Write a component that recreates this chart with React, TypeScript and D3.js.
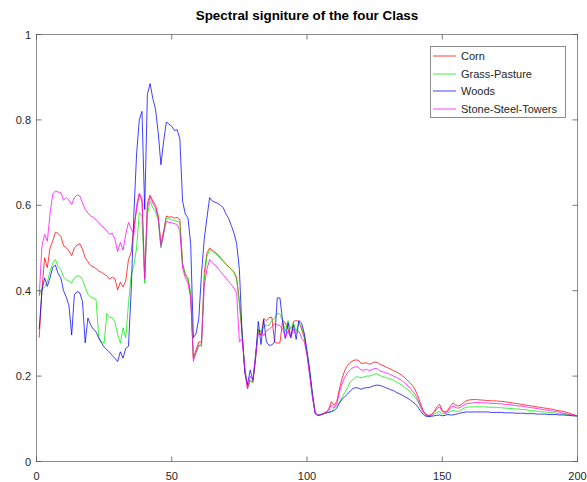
import React from "react";
import * as d3 from "d3";

// Mean reflectance per spectral band (bands 1..200) for each class
const corn = [
  0.290,0.400,0.477,0.454,0.500,0.516,0.537,0.534,0.527,0.505,
  0.501,0.493,0.482,0.500,0.507,0.510,0.497,0.477,0.468,0.459,
  0.456,0.452,0.446,0.443,0.439,0.435,0.427,0.432,0.428,0.402,
  0.420,0.409,0.423,0.473,0.490,0.550,0.590,0.626,0.610,0.430,
  0.606,0.624,0.610,0.600,0.575,0.510,0.540,0.575,0.572,0.573,
  0.570,0.572,0.566,0.465,0.438,0.426,0.390,0.242,0.262,0.280,
  0.280,0.440,0.488,0.500,0.495,0.490,0.485,0.478,0.470,0.463,
  0.456,0.450,0.444,0.430,0.375,0.300,0.210,0.171,0.190,0.185,
  0.240,0.310,0.295,0.335,0.330,0.337,0.338,0.280,0.277,0.278,
  0.330,0.325,0.310,0.290,0.328,0.330,0.328,0.310,0.290,0.250,
  0.205,0.155,0.115,0.108,0.109,0.112,0.116,0.122,0.140,0.132,
  0.140,0.170,0.195,0.214,0.225,0.232,0.236,0.238,0.237,0.230,
  0.230,0.231,0.228,0.230,0.233,0.232,0.227,0.225,0.222,0.219,
  0.216,0.213,0.210,0.206,0.202,0.197,0.191,0.185,0.178,0.168,
  0.153,0.135,0.118,0.110,0.108,0.110,0.117,0.128,0.134,0.120,
  0.116,0.120,0.130,0.137,0.132,0.130,0.133,0.138,0.143,0.144,
  0.145,0.145,0.145,0.144,0.144,0.143,0.143,0.142,0.142,0.142,
  0.141,0.141,0.140,0.139,0.138,0.137,0.136,0.135,0.134,0.133,
  0.132,0.131,0.130,0.129,0.128,0.127,0.126,0.125,0.124,0.123,
  0.122,0.120,0.119,0.118,0.117,0.115,0.113,0.111,0.109,0.107,
];

const grassPasture = [
  0.390,0.404,0.408,0.420,0.445,0.465,0.473,0.456,0.450,0.432,
  0.426,0.422,0.418,0.430,0.435,0.434,0.426,0.408,0.392,0.385,
  0.382,0.380,0.293,0.280,0.277,0.347,0.338,0.336,0.326,0.298,
  0.277,0.313,0.290,0.370,0.435,0.460,0.500,0.583,0.575,0.418,
  0.578,0.610,0.594,0.585,0.565,0.500,0.532,0.571,0.568,0.566,
  0.565,0.562,0.560,0.461,0.440,0.430,0.398,0.242,0.255,0.270,
  0.275,0.422,0.480,0.496,0.492,0.488,0.482,0.475,0.468,0.462,
  0.456,0.450,0.443,0.425,0.370,0.300,0.220,0.175,0.190,0.185,
  0.250,0.310,0.305,0.315,0.320,0.318,0.330,0.335,0.347,0.345,
  0.330,0.305,0.330,0.310,0.325,0.305,0.325,0.315,0.295,0.255,
  0.210,0.155,0.115,0.108,0.109,0.111,0.113,0.115,0.117,0.125,
  0.130,0.140,0.150,0.162,0.173,0.187,0.192,0.198,0.198,0.196,
  0.198,0.200,0.200,0.202,0.205,0.205,0.201,0.199,0.197,0.195,
  0.193,0.190,0.186,0.183,0.179,0.174,0.169,0.164,0.158,0.150,
  0.140,0.127,0.115,0.108,0.106,0.107,0.111,0.115,0.117,0.112,
  0.111,0.114,0.117,0.120,0.118,0.117,0.121,0.125,0.127,0.128,
  0.128,0.128,0.128,0.128,0.128,0.128,0.127,0.127,0.127,0.127,
  0.126,0.126,0.125,0.125,0.124,0.124,0.123,0.123,0.122,0.122,
  0.121,0.120,0.119,0.119,0.118,0.117,0.116,0.116,0.115,0.115,
  0.114,0.113,0.112,0.111,0.111,0.110,0.109,0.108,0.107,0.106,
];

const woods = [
  0.310,0.400,0.430,0.410,0.430,0.455,0.460,0.440,0.430,0.400,
  0.385,0.365,0.296,0.390,0.398,0.395,0.375,0.278,0.336,0.320,
  0.310,0.304,0.289,0.278,0.268,0.262,0.256,0.248,0.242,0.234,
  0.257,0.242,0.265,0.270,0.400,0.580,0.720,0.800,0.820,0.590,
  0.860,0.885,0.850,0.825,0.770,0.695,0.750,0.795,0.790,0.785,
  0.775,0.777,0.755,0.610,0.580,0.570,0.510,0.290,0.300,0.335,
  0.440,0.520,0.570,0.618,0.610,0.607,0.605,0.600,0.595,0.580,
  0.570,0.553,0.535,0.510,0.450,0.300,0.210,0.180,0.214,0.190,
  0.245,0.328,0.274,0.332,0.280,0.272,0.273,0.280,0.383,0.383,
  0.328,0.288,0.325,0.290,0.320,0.286,0.330,0.324,0.300,0.260,
  0.215,0.160,0.112,0.108,0.110,0.112,0.114,0.115,0.117,0.119,
  0.125,0.137,0.146,0.152,0.158,0.165,0.171,0.173,0.172,0.169,
  0.172,0.173,0.173,0.176,0.178,0.179,0.178,0.176,0.173,0.171,
  0.168,0.166,0.162,0.159,0.156,0.152,0.149,0.145,0.140,0.135,
  0.128,0.118,0.110,0.106,0.105,0.106,0.107,0.108,0.109,0.107,
  0.108,0.110,0.109,0.109,0.111,0.112,0.114,0.115,0.116,0.116,
  0.116,0.116,0.116,0.116,0.116,0.116,0.116,0.115,0.115,0.115,
  0.115,0.115,0.114,0.114,0.114,0.114,0.113,0.113,0.113,0.113,
  0.112,0.112,0.112,0.112,0.111,0.111,0.111,0.111,0.110,0.110,
  0.110,0.110,0.109,0.109,0.109,0.108,0.108,0.107,0.107,0.106,
];

const stoneSteelTowers = [
  0.387,0.504,0.532,0.516,0.580,0.626,0.634,0.631,0.630,0.612,
  0.618,0.612,0.602,0.618,0.624,0.622,0.606,0.590,0.582,0.575,
  0.572,0.566,0.560,0.552,0.547,0.540,0.532,0.535,0.520,0.492,
  0.513,0.495,0.532,0.560,0.545,0.532,0.600,0.628,0.618,0.426,
  0.594,0.620,0.605,0.594,0.570,0.504,0.535,0.563,0.560,0.559,
  0.557,0.555,0.540,0.453,0.430,0.418,0.383,0.235,0.255,0.273,
  0.270,0.410,0.450,0.473,0.465,0.460,0.453,0.445,0.437,0.430,
  0.422,0.414,0.406,0.394,0.280,0.288,0.220,0.171,0.200,0.190,
  0.250,0.300,0.305,0.295,0.306,0.310,0.315,0.323,0.320,0.318,
  0.310,0.290,0.305,0.290,0.310,0.300,0.305,0.290,0.280,0.250,
  0.200,0.150,0.113,0.108,0.109,0.111,0.114,0.118,0.132,0.126,
  0.135,0.162,0.183,0.198,0.208,0.215,0.220,0.222,0.221,0.214,
  0.214,0.216,0.213,0.215,0.218,0.217,0.212,0.210,0.208,0.206,
  0.203,0.200,0.197,0.194,0.190,0.185,0.179,0.172,0.165,0.157,
  0.145,0.130,0.116,0.109,0.107,0.109,0.115,0.124,0.128,0.117,
  0.114,0.117,0.125,0.130,0.126,0.125,0.128,0.132,0.135,0.136,
  0.137,0.138,0.138,0.138,0.137,0.137,0.137,0.136,0.136,0.136,
  0.135,0.135,0.134,0.133,0.133,0.132,0.131,0.130,0.130,0.129,
  0.128,0.127,0.126,0.125,0.124,0.123,0.122,0.121,0.120,0.119,
  0.118,0.117,0.116,0.114,0.113,0.112,0.110,0.109,0.108,0.106,
];

const seriesNames = ["Corn", "Grass-Pasture", "Woods", "Stone-Steel-Towers"];
const seriesColors = ["#ff0000", "#00ee00", "#0000ff", "#ff00ff"];
const xTicks = [0, 50, 100, 150, 200];
const yTicks = [0, 0.2, 0.4, 0.6, 0.8, 1];
const title = "Spectral signiture of the four Class";

const W = 587;
const H = 482;
const M = { left: 36.5, right: 577.5, top: 34.5, bottom: 461.5 };
const FONT = "'Liberation Sans', Arial, Helvetica, sans-serif";

export default function App() {
  const x = d3.scaleLinear().domain([0, 200]).range([M.left, M.right]);
  const y = d3.scaleLinear().domain([0, 1]).range([M.bottom, M.top]);
  const all = [corn, grassPasture, woods, stoneSteelTowers];
  const line = d3
    .line<number>()
    .x((_, i) => x(i + 1))
    .y((d) => y(d));

  const tickLen = 5;
  const axisColor = "#8c8c8c";
  const tickColor = "#555";
  const textColor = "#262626";

  const legend = { x0: 430.5, y0: 46.5, w: 135, h: 71, row0: 56, dy: 17.7 };

  return (
    <svg
      width={W}
      height={H}
      style={{ position: "absolute", left: 0, top: 0, background: "#fff" }}
      fontFamily={FONT}
    >
      <rect x={0} y={0} width={W} height={H} fill="#fff" />
      <text
        x={(M.left + M.right) / 2}
        y={20}
        textAnchor="middle"
        fontSize={13.4}
        fontWeight="bold"
        fill="#000"
      >
        {title}
      </text>

      <defs>
        <clipPath id="plotclip">
          <rect x={M.left} y={M.top} width={M.right - M.left} height={M.bottom - M.top} />
        </clipPath>
      </defs>
      <g clipPath="url(#plotclip)">
        {all.map((s, k) => (
          <path
            key={seriesNames[k]}
            d={line(s) || ""}
            fill="none"
            stroke={seriesColors[k]}
            strokeWidth={1}
            strokeOpacity={0.75}
            strokeLinejoin="round"
          />
        ))}
      </g>

      {/* axes box */}
      <rect
        x={M.left}
        y={M.top}
        width={M.right - M.left}
        height={M.bottom - M.top}
        fill="none"
        stroke={axisColor}
        strokeWidth={1}
      />

      {/* x ticks, bottom and top, pointing inward */}
      {xTicks.map((t) => (
        <g key={"x" + t}>
          <line x1={x(t)} x2={x(t)} y1={M.bottom} y2={M.bottom - tickLen} stroke={tickColor} strokeWidth={0.8} />
          <line x1={x(t)} x2={x(t)} y1={M.top} y2={M.top + tickLen} stroke={tickColor} strokeWidth={0.8} />
          <text x={x(t)} y={480} textAnchor="middle" fontSize={11} fill={textColor}>
            {t}
          </text>
        </g>
      ))}

      {/* y ticks, left and right, pointing inward */}
      {yTicks.map((t) => (
        <g key={"y" + t}>
          <line x1={M.left} x2={M.left + tickLen} y1={y(t)} y2={y(t)} stroke={tickColor} strokeWidth={0.8} />
          <line x1={M.right} x2={M.right - tickLen} y1={y(t)} y2={y(t)} stroke={tickColor} strokeWidth={0.8} />
          <text x={31} y={y(t) + 4} textAnchor="end" fontSize={11} fill={textColor}>
            {t === 0 || t === 1 ? String(t) : t.toFixed(1)}
          </text>
        </g>
      ))}

      {/* legend */}
      <rect x={legend.x0} y={legend.y0} width={legend.w} height={legend.h} fill="#fff" stroke={axisColor} strokeWidth={1} />
      {seriesNames.map((n, k) => {
        const ry = Math.round(legend.row0 + k * legend.dy);
        return (
          <g key={"lg" + n}>
            <line x1={433} x2={456} y1={ry} y2={ry} stroke={seriesColors[k]} strokeWidth={1} strokeOpacity={0.75} />
            <text x={461} y={ry + 3.5} fontSize={11} fill={textColor}>
              {n}
            </text>
          </g>
        );
      })}
    </svg>
  );
}
